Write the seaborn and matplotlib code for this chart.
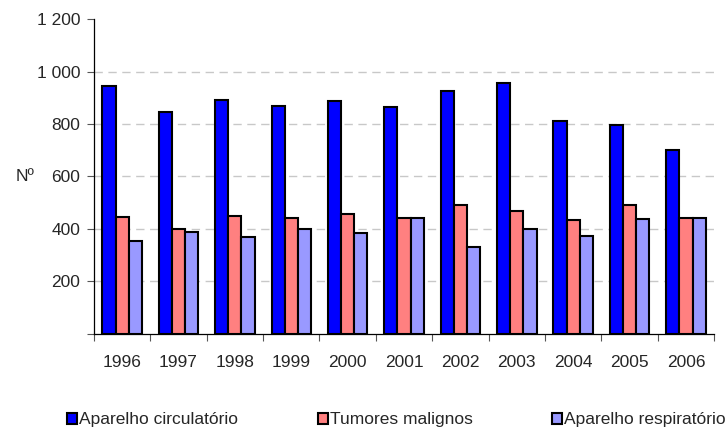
import pandas as pd
import numpy as np
import matplotlib
matplotlib.use('Agg')
import matplotlib.pyplot as plt
import seaborn as sns
from matplotlib.ticker import FuncFormatter, FixedLocator

years = ['1996', '1997', '1998', '1999', '2000', '2001', '2002', '2003', '2004', '2005', '2006']
circulatorio = [945, 846, 892, 870, 886, 864, 926, 958, 812, 797, 701]
tumores = [445, 399, 449, 440, 456, 440, 492, 469, 435, 492, 443]
respiratorio = [356, 388, 368, 399, 384, 442, 330, 400, 375, 438, 443]
series_names = ['Aparelho circulatório', 'Tumores malignos', 'Aparelho respiratório']
colors = ['#0000FF', '#FF8080', '#9999FF']

df = pd.DataFrame({'ano': years * 3,
                   'valor': circulatorio + tumores + respiratorio,
                   'causa': [series_names[0]] * 11 + [series_names[1]] * 11 + [series_names[2]] * 11})

sns.set_style('white')
plt.rcParams['font.family'] = ['Liberation Sans', 'DejaVu Sans']
plt.rcParams['font.size'] = 12.5

fig = plt.figure(figsize=(7.28, 4.30), dpi=100)
ax = fig.add_axes([0.129, 0.2233, 0.852, 0.7325])

sns.barplot(data=df, x='ano', y='valor', hue='causa', palette=colors, saturation=1,
            width=0.7, edgecolor='black', linewidth=1.5, ax=ax)

ax.set_ylim(0, 1200)
ax.set_xlim(-0.5, len(years) - 0.5)
ax.set_yticks(range(0, 1201, 200))
ax.yaxis.set_major_formatter(FuncFormatter(lambda v, p: '' if v == 0 else f'{int(v):,}'.replace(',', ' ')))
for v in range(200, 1001, 200):
    ax.axhline(v, color='#c8c8c8', lw=1.0, ls=(0, (6, 4)), zorder=0)

ax.tick_params(axis='y', length=5, width=0.8, color='#555555', pad=5, labelsize=12.5, direction='out', left=True)
ax.tick_params(axis='x', which='major', length=0, pad=15, labelsize=12.5)
ax.xaxis.set_minor_locator(FixedLocator(np.arange(-0.5, len(years), 1.0)))
ax.tick_params(axis='x', which='minor', length=5, width=0.8, color='#555555', direction='out', bottom=True)

for s in ['top', 'right']:
    ax.spines[s].set_visible(False)
for s in ['left', 'bottom']:
    ax.spines[s].set_color('black')
    ax.spines[s].set_linewidth(0.9)

ax.set_xlabel('')
ax.set_ylabel('Nº', rotation=0, va='center', ha='center', fontsize=12.5)
ax.yaxis.set_label_coords(-0.111, 0.5)

handles, labels = ax.get_legend_handles_labels()
ax.legend_.remove()
fig.legend(handles, labels, loc='center left', bbox_to_anchor=(0.0826, 0.0233), ncol=3,
           frameon=False, handlelength=0.58, handleheight=0.58, handletextpad=0.115,
           columnspacing=4.58, fontsize=12.5, borderaxespad=0)

fig.savefig('out.png', dpi=100)
